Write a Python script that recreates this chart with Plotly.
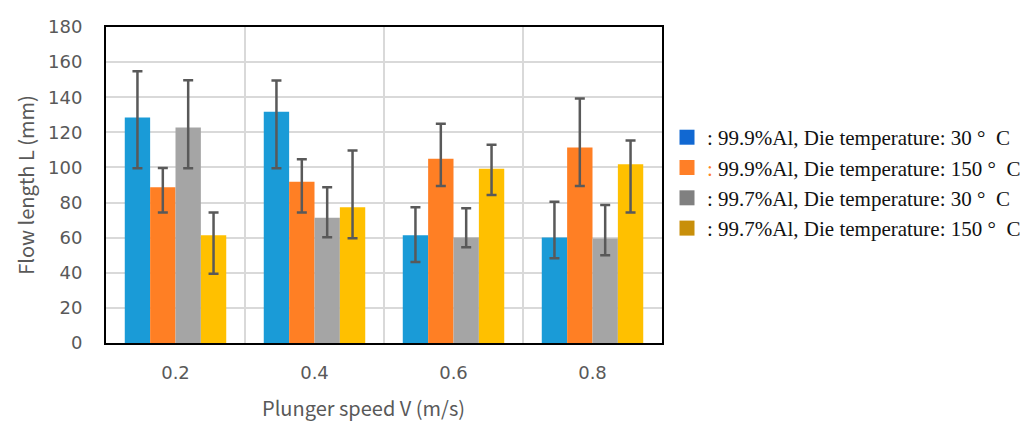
import plotly.graph_objects as go

categories = ["0.2", "0.4", "0.6", "0.8"]
series_names = [
    ": 99.9%Al, Die temperature: 30\u00a0°\u00a0\u00a0C",
    ": 99.9%Al, Die temperature: 150\u00a0°\u00a0\u00a0C",
    ": 99.7%Al, Die temperature: 30\u00a0°\u00a0\u00a0C",
    ": 99.7%Al, Die temperature: 150\u00a0°\u00a0\u00a0C",
]
bar_colors = ["#1A9BD7", "#FF7F24", "#A5A5A5", "#FFC000"]
legend_colors = ["#1168D2", "#FF7F27", "#808080", "#C88F0A"]

al999_30 = [128.5, 131.7, 61.4, 60.1]
al999_150 = [88.7, 91.9, 105.0, 111.4]
al997_30 = [122.8, 71.4, 60.1, 59.5]
al997_150 = [61.4, 77.3, 99.3, 101.8]

al999_30_hi = [154.8, 149.5, 77.3, 80.5]
al999_30_lo = [99.5, 99.5, 46.2, 48.3]
al999_150_hi = [99.7, 104.6, 124.9, 139.3]
al999_150_lo = [74.3, 74.3, 89.4, 89.4]
al997_30_hi = [149.7, 88.7, 76.7, 78.6]
al997_30_lo = [99.5, 60.3, 54.6, 50.0]
al997_150_hi = [74.3, 109.7, 112.9, 115.4]
al997_150_lo = [39.4, 59.7, 84.3, 74.3]

values = [al999_30, al999_150, al997_30, al997_150]
highs = [al999_30_hi, al999_150_hi, al997_30_hi, al997_150_hi]
lows = [al999_30_lo, al999_150_lo, al997_30_lo, al997_150_lo]

xpos = list(range(len(categories)))
fig = go.Figure()
for vals, hi, lo, col in zip(values, highs, lows, bar_colors):
    fig.add_trace(go.Bar(
        x=xpos, y=vals, marker=dict(color=col, line=dict(width=0)),
        showlegend=False,
        error_y=dict(type="data", symmetric=False,
                     array=[h - v for h, v in zip(hi, vals)],
                     arrayminus=[v - l for v, l in zip(vals, lo)],
                     color="#595959", thickness=2.5, width=5),
    ))

for i, (name, col) in enumerate(zip(series_names, legend_colors)):
    label = name
    if i == 1:
        label = '<span style="color:#FF7F27">:</span>' + name[1:]
    fig.add_trace(go.Scatter(
        x=[None], y=[None], mode="markers", name=label,
        legendgroup="g%d" % i,
        marker=dict(symbol="square", size=15, color=col),
    ))

fig.update_layout(
    width=1033, height=421,
    margin=dict(l=106, r=371, t=27, b=78, autoexpand=False),
    plot_bgcolor="white", paper_bgcolor="white",
    barmode="group", bargap=0.27, bargroupgap=0,
    font=dict(family="Noto Sans CJK JP", color="#595959", size=18),
    showlegend=True,
    legend=dict(x=1.009, xanchor="left", y=0.715, yanchor="top",
                font=dict(family="Liberation Serif", size=21, color="#111111"),
                tracegroupgap=0, itemwidth=30, bgcolor="rgba(0,0,0,0)"),
    xaxis=dict(
        range=[-0.5, len(categories) - 0.5],
        tickmode="array", tickvals=xpos, ticktext=categories,
        showgrid=False, zeroline=False,
        showline=True, mirror=True, linecolor="black", linewidth=2,
        ticks="", ticklabelstandoff=12,
        minor=dict(tickmode="array", tickvals=[p + 0.5 for p in xpos[:-1]],
                   showgrid=True, gridcolor="#D9D9D9", gridwidth=2, ticks=""),
        tickfont=dict(family="DejaVu Sans", size=18),
    ),
    yaxis=dict(
        range=[0, 180], dtick=20, tick0=0,
        showgrid=True, gridcolor="#D9D9D9", gridwidth=2, zeroline=False,
        showline=True, mirror=True, linecolor="black", linewidth=2,
        ticks="", ticklabelstandoff=18,
        title=dict(text="Flow length L (mm)", font=dict(size=20), standoff=8),
        tickfont=dict(family="DejaVu Sans", size=18),
    ),
    annotations=[dict(
        text="Plunger speed V (m/s)", xref="paper", yref="paper",
        x=(363 - 106) / 556, y=-0.205, xanchor="center", yanchor="middle",
        showarrow=False, font=dict(size=20, color="#595959"),
    )],
)

fig.write_html("out.html")
